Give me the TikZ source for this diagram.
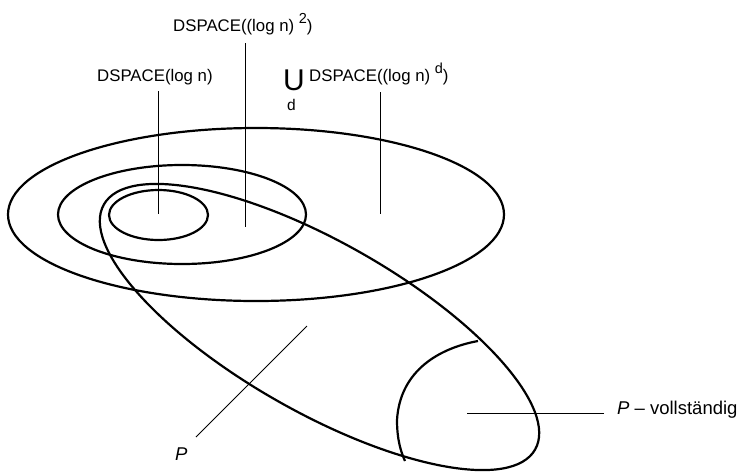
\documentclass[tikz,border=0pt]{standalone}
\usepackage{fontspec}
\setmainfont{Liberation Sans}
\begin{document}
\begin{tikzpicture}[x=1pt,y=-1pt,
  setline/.style={line width=2.2pt},
  lead/.style={line width=0.8pt},
  lbl/.style={font=\fontsize{16.8}{19}\selectfont, inner sep=0pt, anchor=base west},
  biglbl/.style={font=\fontsize{18.5}{22}\selectfont, inner sep=0pt, anchor=base west}]
\useasboundingbox (0,0) rectangle (743,472);
% sets
\draw[setline] (256,214.5) ellipse [x radius=248pt, y radius=86.5pt];
\draw[setline] (182,214.5) ellipse [x radius=124pt, y radius=49.5pt];
\draw[setline] (158.5,215) ellipse [x radius=49.5pt, y radius=25pt];
\draw[setline, rotate around={-29.6:(319.5,327)}] (319.5,327) ellipse [x radius=248pt, y radius=85pt];
\draw[setline] (478,341) .. controls (440,348) and (400,370) .. (397,420)
  .. controls (397,440) and (401,452) .. (405,461);
% labels
\node[lbl] (t2) at (173,31) {DSPACE((log n) \raisebox{0.8ex}{\fontsize{14.5}{15}\selectfont 2})};
\node[lbl] (t1) at (97,81) {DSPACE(log n)};
\node[font=\fontsize{30}{32}\selectfont, inner sep=0pt, anchor=base west] (U) at (283,90) {U};
\node[font=\fontsize{15.5}{16}\selectfont, inner sep=0pt, anchor=base west] (ud) at (287,110) {d};
\node[lbl] (td) at (309,81) {DSPACE((log n) \raisebox{0.8ex}{\fontsize{14.5}{15}\selectfont d})};
\node[biglbl] (p) at (175,460) {\itshape P};
\node[biglbl] (pv) at (617,414) {\textit{P} – vollständig};
% leader lines
\coordinate (a1) at (158,91); \coordinate (b1) at (158,214);
\coordinate (a2) at (245,43); \coordinate (b2) at (245,227);
\coordinate (a3) at (380,92); \coordinate (b3) at (380,214);
\coordinate (a4) at (196,437); \coordinate (b4) at (307,326);
\coordinate (a5) at (604,413); \coordinate (b5) at (467,413);
\draw[lead] (a1) -- (b1);
\draw[lead] (a2) -- (b2);
\draw[lead] (a3) -- (b3);
\draw[lead] (a4) -- (b4);
\draw[lead] (a5) -- (b5);
\end{tikzpicture}
\end{document}
